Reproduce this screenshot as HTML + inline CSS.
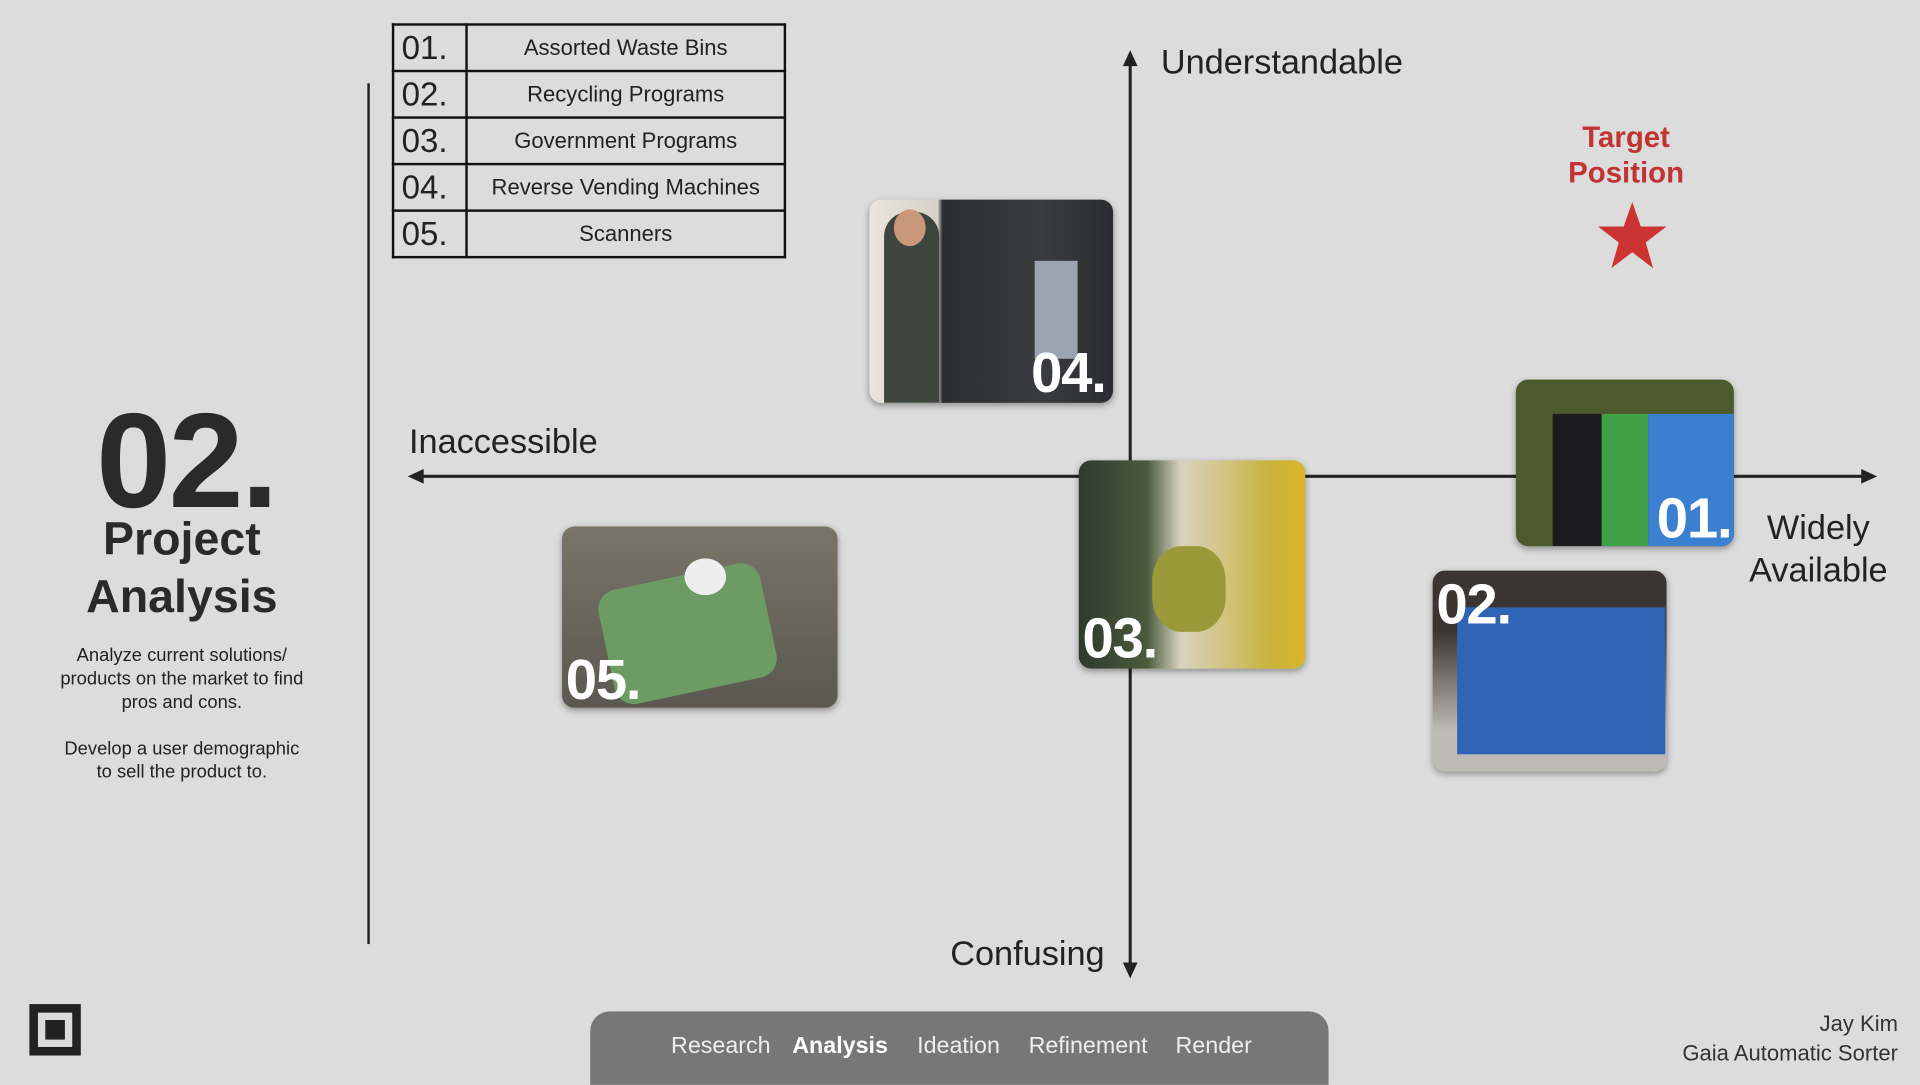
<!DOCTYPE html>
<html><head><meta charset="utf-8"><style>
html,body{margin:0;padding:0;width:1920px;height:1080px;overflow:hidden;background:#dcdcdc}
#s{position:absolute;left:0;top:0;width:1568px;height:882px;transform:scale(1.22449);transform-origin:0 0;font-family:"Liberation Sans",sans-serif;color:#222}
.a{position:absolute}
.ph{position:absolute;border-radius:10px;overflow:hidden;box-shadow:0 2px 5px rgba(0,0,0,.35)}
.num{position:absolute;color:#fff;font-weight:bold;font-size:46px;letter-spacing:-1px}
table{border-collapse:collapse}
td{border:2px solid #111;height:36px;font-size:18px;padding:0}
</style></head><body><div id="s">
<table class="a" style="left:320px;top:19px;width:322px">
<tr><td style="width:52px;font-size:27px;padding-left:6px">01.</td><td style="text-align:center">Assorted Waste Bins</td></tr>
<tr><td style="font-size:27px;padding-left:6px">02.</td><td style="text-align:center">Recycling Programs</td></tr>
<tr><td style="font-size:27px;padding-left:6px">03.</td><td style="text-align:center">Government Programs</td></tr>
<tr><td style="font-size:27px;padding-left:6px">04.</td><td style="text-align:center">Reverse Vending Machines</td></tr>
<tr><td style="font-size:27px;padding-left:6px">05.</td><td style="text-align:center">Scanners</td></tr>
</table>
<div class="a" style="left:300px;top:68px;width:2px;height:703px;background:#222"></div>
<div class="a" style="left:0;top:313px;width:304px;text-align:center;font-weight:bold;font-size:110px;letter-spacing:-2px;color:#2a2a2a">02.</div>
<div class="a" style="left:0;top:418px;width:297px;text-align:center;font-weight:bold;font-size:38px;line-height:47px;color:#2a2a2a">Project<br>Analysis</div>
<div class="a" style="left:0;top:526px;width:297px;text-align:center;font-size:15px;line-height:19px">Analyze current solutions/<br>products on the market to find<br>pros and cons.<br><br>Develop a user demographic<br>to sell the product to.</div>
<svg class="a" style="left:0;top:0" width="1568" height="882">
<line x1="923" y1="48" x2="923" y2="792" stroke="#222" stroke-width="2.5"/>
<polygon points="923,41 917,54 929,54" fill="#222"/>
<polygon points="923,799 917,786 929,786" fill="#222"/>
<line x1="340" y1="389" x2="1526" y2="389" stroke="#222" stroke-width="2.5"/>
<polygon points="333,389 346,383 346,395" fill="#222"/>
<polygon points="1533,389 1520,383 1520,395" fill="#222"/>
<polygon fill="#cc3333" points="1333,165 1340,185 1361,185 1344,198 1350,219 1333,206 1316,219 1322,198 1305,185 1326,185"/>
<rect x="24" y="820" width="42" height="42" fill="#222"/><rect x="31" y="827" width="28" height="28" fill="#dcdcdc"/><rect x="37" y="833" width="16" height="16" fill="#222"/>
</svg>
<div class="a" style="left:948px;top:35px;font-size:28px">Understandable</div>
<div class="a" style="left:334px;top:345px;font-size:28px">Inaccessible</div>
<div class="a" style="left:776px;top:763px;font-size:28px">Confusing</div>
<div class="a" style="left:1420px;top:413px;width:130px;text-align:center;font-size:28px;line-height:35px">Widely<br>Available</div>
<div class="a" style="left:1258px;top:98px;width:140px;text-align:center;font-weight:bold;font-size:24px;line-height:29px;color:#c23434">Target<br>Position</div>
<div class="ph" style="left:710px;top:163px;width:199px;height:166px;background:linear-gradient(90deg,#e8e4de 0,#d8d2c8 28%,#2b2d31 30%,#3a3c40 70%,#2a2c30 100%)">
<div class="a" style="left:12px;top:10px;width:45px;height:156px;background:#3e443e;border-radius:20px 20px 0 0"></div>
<div class="a" style="left:20px;top:8px;width:26px;height:30px;background:#c9977a;border-radius:50%"></div>
<div class="a" style="left:135px;top:50px;width:35px;height:80px;background:#9aa4b0"></div>
<div class="num" style="right:6px;bottom:-2px">04.</div></div>
<div class="ph" style="left:881px;top:376px;width:185px;height:170px;background:linear-gradient(90deg,#2f3a2c 0,#4a5a3c 30%,#d8d3c0 45%,#c9b33a 85%,#d8b628 100%)">
<div class="a" style="left:60px;top:70px;width:60px;height:70px;background:#9a9a3a;border-radius:40%"></div>
<div class="num" style="left:3px;bottom:-2px">03.</div></div>
<div class="ph" style="left:1238px;top:310px;width:178px;height:136px;background:#4d5a2c">
<div class="a" style="left:30px;top:28px;width:40px;height:108px;background:#1c1c1e"></div>
<div class="a" style="left:70px;top:28px;width:38px;height:108px;background:#3fa046"></div>
<div class="a" style="left:108px;top:28px;width:70px;height:108px;background:#3b7fd0"></div>
<div class="num" style="right:2px;bottom:-4px">01.</div></div>
<div class="ph" style="left:1170px;top:466px;width:191px;height:164px;background:linear-gradient(180deg,#3a3432 0,#3a3432 30%,#bdbbb6 80%)">
<div class="a" style="left:20px;top:30px;width:170px;height:120px;background:#2f64b4"></div>
<div class="num" style="left:3px;top:0">02.</div></div>
<div class="ph" style="left:459px;top:430px;width:225px;height:148px;background:linear-gradient(180deg,#7a7468,#5a5850)">
<div class="a" style="left:35px;top:40px;width:135px;height:95px;background:#6d9b64;border-radius:16px;transform:rotate(-12deg)"></div>
<div class="a" style="left:100px;top:26px;width:34px;height:30px;background:#eee;border-radius:50%"></div>
<div class="num" style="left:3px;bottom:-4px">05.</div></div>
<div class="a" style="left:482px;top:826px;width:603px;height:60px;background:#777;border-radius:16px 16px 0 0;color:#eee;font-size:19px">
<span class="a" style="left:66px;top:18px">Research</span><span class="a" style="left:165px;top:18px;font-weight:bold;color:#fff">Analysis</span><span class="a" style="left:267px;top:18px">Ideation</span><span class="a" style="left:358px;top:18px">Refinement</span><span class="a" style="left:478px;top:18px">Render</span></div>
<div class="a" style="right:18px;top:824px;text-align:right;font-size:18px;line-height:24px;color:#333">Jay Kim<br>Gaia Automatic Sorter</div>
</div></body></html>
